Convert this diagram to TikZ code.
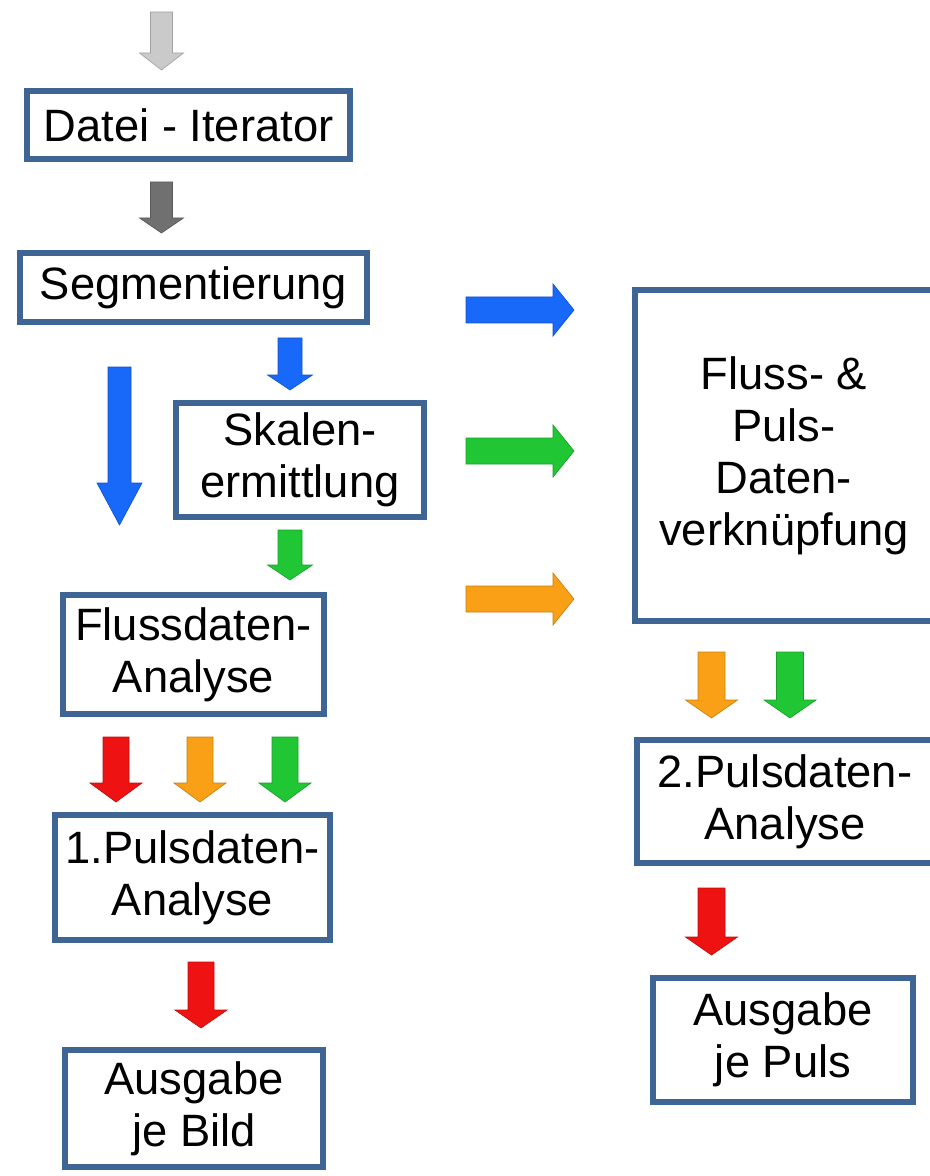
\documentclass[tikz,border=0pt]{standalone}
\usepackage{fontspec}
\setmainfont{Liberation Sans}
\usetikzlibrary{positioning}
\definecolor{boxblue}{RGB}{62,101,148}
\definecolor{arrblue}{RGB}{24,104,250}
\definecolor{arrgreen}{RGB}{32,198,52}
\definecolor{arrorange}{RGB}{249,160,22}
\definecolor{arrred}{RGB}{238,18,18}
\definecolor{arrlight}{RGB}{202,202,202}
\definecolor{arrdark}{RGB}{112,112,112}
% block arrow: colour, length, head length, shaft width, head width
\tikzset{
  pics/blockarrow/.style n args={5}{code={
    \filldraw[fill=#1, draw=#1!80!black, line width=0.5pt]
      (-#4/2,0) -- (-#4/2,#2-#3) -- (-#5/2,#2-#3) -- (0,#2)
      -- (#5/2,#2-#3) -- (#4/2,#2-#3) -- (#4/2,0) -- cycle;
  }}
}

\begin{document}
\begin{tikzpicture}[x=0.75pt, y=-0.75pt,
    box/.style={draw=boxblue, line width=4.5pt, fill=white, align=center,
      font=\fontsize{34}{39}\selectfont, inner sep=2pt}]
  \useasboundingbox (0,0) rectangle (929,1176);

  % boxes, left column
  \node[box, minimum width=242pt, minimum height=51pt] (iter) at (188.5,125) {Datei - Iterator};
  \node[box, minimum width=260pt, minimum height=52pt] (segm) at (193.5,287.5) {Segmentierung};
  \node[box, minimum width=186pt, minimum height=85.5pt] (skal) at (300,460) {Skalen-\\ermittlung};
  \node[box, minimum width=196pt, minimum height=89pt] (flus) at (193.5,654.5) {Flussdaten-\\Analyse};
  \node[box, minimum width=206pt, minimum height=94pt] (puls1) at (192.5,877.5) {1.Pulsdaten-\\Analyse};
  \node[box, minimum width=193.5pt, minimum height=88pt] (outb) at (194,1108.5) {Ausgabe\\je Bild};

  % boxes, right column
  \node[box, minimum width=223.5pt, minimum height=248pt] (link) at (784,455.5) {Fluss- \&\\Puls-\\Daten-\\verknüpfung};
  \node[box, minimum width=222pt, minimum height=92pt] (puls2) at (785,801.5) {2.Pulsdaten-\\Analyse};
  \node[box, minimum width=195pt, minimum height=93pt] (outp) at (783,1040) {Ausgabe\\je Puls};

  % arrows, left column
  \pic (a1) at (161.5,12) {blockarrow={arrlight}{58}{17}{22}{44}};
  \pic (a2) at (161.5,182) {blockarrow={arrdark}{51}{15}{22}{44}};
  \pic (a3) at (290,338) {blockarrow={arrblue}{52}{15}{24}{45}};
  \pic (a4) at (119.5,367) {blockarrow={arrblue}{158}{42}{23}{45}};
  \pic (a5) at (290,530) {blockarrow={arrgreen}{50}{15}{24}{45}};
  \pic (a6) at (116,737) {blockarrow={arrred}{65}{19}{26}{52}};
  \pic (a7) at (200,737) {blockarrow={arrorange}{65}{19}{26}{52}};
  \pic (a8) at (285,737) {blockarrow={arrgreen}{65}{19}{26}{52}};
  \pic (a9) at (201,962) {blockarrow={arrred}{66}{18}{26}{52}};

  % arrows into the right column
  \pic[rotate=90] (b1) at (466,310) {blockarrow={arrblue}{108}{21}{26}{52}};
  \pic[rotate=90] (b2) at (466,451) {blockarrow={arrgreen}{108}{21}{26}{52}};
  \pic[rotate=90] (b3) at (466,599) {blockarrow={arrorange}{108}{21}{26}{52}};
  \pic (b4) at (711.5,652) {blockarrow={arrorange}{66}{18}{27}{52}};
  \pic (b5) at (790,652) {blockarrow={arrgreen}{66}{18}{27}{52}};
  \pic (b6) at (711.5,888) {blockarrow={arrred}{67}{18}{27}{52}};
\end{tikzpicture}
\end{document}
